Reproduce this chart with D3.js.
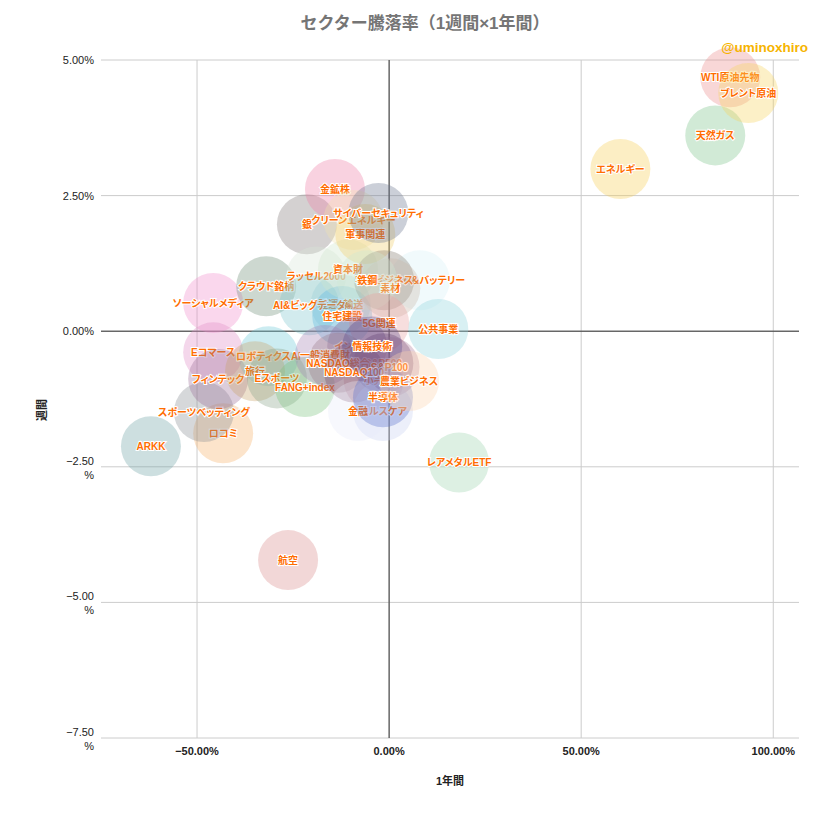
<!DOCTYPE html>
<html>
<head>
<meta charset="utf-8">
<script src="https://cdn.jsdelivr.net/npm/d3@7"></script>
<style>
body{margin:0;background:#fff;}
text{font-family:Arial,"Liberation Sans","Noto Sans CJK JP",sans-serif;}
text.lbl{font-family:Arial,"Noto Sans CJK JP",sans-serif;font-feature-settings:"palt";}
</style>
</head>
<body>
<div id="chart"></div>
<script>

// data (1年間 %, 週間 %)
const sectors = ["航空","ARKK","ロコミ","スポーツベッティング","ソーシャルメディア","Eコマース","フィンテック",
"クラウド銘柄","ロボティクスAI","旅行","Eスポーツ","FANG+index","銀","金鉱株","ラッセル2000","陸運・輸送",
"AI&ビッグデータ","住宅建設","資本財","クリーンエネルギー","軍事関連","サイバーセキュリティ",
"リチウム＆バッテリー","宇宙ビジネス","素材","鉄鋼","5G関連","インドETF","S&P500","一般消費財","NASDAQ総合","小売",
"S&P100","NASDAQ100","情報技術","ヘルスケア","金融","半導体","農業ビジネス","公共事業","レアメタルETF","エネルギー",
"天然ガス","WTI原油先物","ブレント原油"]

const yearReturns = [-26.3,-62.0,-43.2,-48.2,-45.8,-45.8,-44.5,
-32.0,-31.4,-34.9,-29.2,-21.9,-21.4,-14.1,-19.0,-12.6,
-20.8,-12.2,-10.7,-9.3,-6.2,-2.8,
8.0,-1.3,0.3,-5.7,-2.6,-8.3,-1.5,-16.7,-13.3,-4.0,
0.1,-9.1,-4.4,-1.6,-8.1,-1.6,5.2,12.8,18.2,60.2,
84.9,88.8,93.5]

const weekReturns = [-4.22,-2.12,-1.88,-1.49,0.52,-0.39,-0.88,
0.83,-0.46,-0.74,-0.87,-1.03,1.97,2.62,1.01,0.50,
0.48,0.28,1.14,2.05,1.79,2.18,
0.94,0.94,0.79,0.94,0.15,-0.28,-0.59,-0.44,-0.58,-0.90,
-0.66,-0.76,-0.28,-1.47,-1.47,-1.22,-0.92,0.04,-2.42,2.99,
3.61,4.68,4.39]

const bubbleColors = ["#d98c8c","#6fa3a6","#f5b26b","#8a8f94","#f08ccc","#e08cc6","#9a6f97",
"#6f9078","#6cc9d6","#c9a36a","#8aa38a","#7cc47f","#857a7b","#ee7fa5","#d8e6d8","#a9d3dc",
"#7fc6cf","#5bb8e0","#cfe6cc","#f2e3b0","#f2cf6a","#6a7690",
"#d6f2f6","#857c70","#c9b8a8","#cfe8d4","#e8a0a0","#7d5b8f","#6b3f63","#a585b5","#9c7a8a","#c08a9a",
"#b07a9c","#7e4f6d","#5d4a8c","#c9d2f2","#e8ecf8","#5b72cc","#fbd4ae","#8fd3dc","#9ed4ae","#f6cd55",
"#7cc38a","#eb8d8d","#f6d35e"]

const xTicks = [-50,0,50,100]
const yTicks = [5,2.5,0,-2.5,-5,-7.5]

const width = 813
const height = 827

const svg = d3.select("#chart")
.append("svg")
.attr("width",width)
.attr("height",height)

const x = d3.scaleLinear().domain([-75,106.7]).range([101,799])
const y = d3.scaleLinear().domain([-7.5,5]).range([738,60])

// grid
svg.selectAll("line.hgrid")
.data(yTicks)
.enter()
.append("line")
.attr("x1",101).attr("x2",799)
.attr("y1",d=>y(d)).attr("y2",d=>y(d))
.attr("stroke","#cccccc")

svg.selectAll("line.vgrid")
.data(xTicks)
.enter()
.append("line")
.attr("x1",d=>x(d)).attr("x2",d=>x(d))
.attr("y1",60).attr("y2",738)
.attr("stroke","#cccccc")

svg.append("line")
.attr("x1",101).attr("x2",799)
.attr("y1",y(0)).attr("y2",y(0))
.attr("stroke","#333")

svg.append("line")
.attr("x1",x(0)).attr("x2",x(0))
.attr("y1",60).attr("y2",738)
.attr("stroke","#333")

// axis labels
svg.selectAll("text.xt")
.data(xTicks)
.enter()
.append("text")
.attr("x",d=>x(d))
.attr("y",755)
.attr("text-anchor","middle")
.attr("font-size","11px")
.attr("font-weight","bold")
.attr("fill","#222")
.text(d=>d3.format(".2f")(d)+"%")

const yt = svg.selectAll("text.yt")
.data(yTicks)
.enter()
.append("text")
.attr("text-anchor","end")
.attr("font-size","11px")
.attr("fill","#222")

yt.each(function(d){
const t = d3.select(this)
if(d<0){
t.append("tspan").attr("x",94).attr("y",y(d)-2).text(d3.format(".2f")(d))
t.append("tspan").attr("x",94).attr("y",y(d)+12).text("%")
}else{
t.append("tspan").attr("x",94).attr("y",y(d)+4).text(d3.format(".2f")(d)+"%")
}
})

// bubbles
const data = sectors.map((s,i)=>({name:s,x:yearReturns[i],y:weekReturns[i],c:bubbleColors[i]}))

const g = svg.selectAll("g.bubble")
.data(data)
.enter()
.append("g")

g.append("circle")
.attr("cx",d=>x(d.x))
.attr("cy",d=>y(d.y))
.attr("r",30)
.attr("fill",d=>d.c)
.attr("fill-opacity",0.35)

g.append("text")
.attr("class","lbl")
.attr("x",d=>x(d.x))
.attr("y",d=>y(d.y)+4)
.attr("text-anchor","middle")
.attr("font-size","10px")
.attr("font-weight","bold")
.attr("fill","#ff6d01")
.attr("stroke","#fff")
.attr("stroke-width",2)
.attr("paint-order","stroke")
.text(d=>d.name)

// titles
svg.append("text")
.attr("x",425)
.attr("y",29)
.attr("text-anchor","middle")
.attr("font-size","17px")
.attr("font-weight","bold")
.attr("fill","#757575")
.text("セクター騰落率（1週間×1年間）")

svg.append("text")
.attr("x",808)
.attr("y",52)
.attr("text-anchor","end")
.attr("font-size","13.5px")
.attr("font-weight","bold")
.attr("fill","#f6b400")
.text("@uminoxhiro")

svg.append("text")
.attr("x",450)
.attr("y",785)
.attr("text-anchor","middle")
.attr("font-size","11px")
.attr("font-weight","bold")
.attr("fill","#222")
.text("1年間")

svg.append("text")
.attr("transform","translate(46,410) rotate(-90)")
.attr("text-anchor","middle")
.attr("font-size","11px")
.attr("font-weight","bold")
.attr("fill","#222")
.text("週間")

</script>
</body>
</html>
